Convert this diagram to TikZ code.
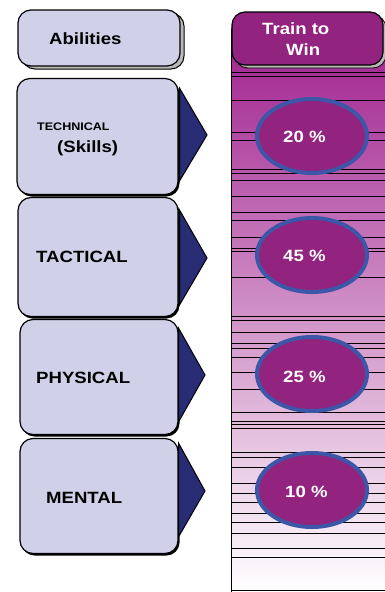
\documentclass[tikz,border=0pt]{standalone}
\usepackage{fontspec}
\usepackage{graphicx}
\setmainfont{Liberation Sans}
\usetikzlibrary{shadows}
\definecolor{lav}{HTML}{D0D0E8}
\definecolor{navyc}{HTML}{282C74}
\definecolor{magc}{HTML}{92237F}
\definecolor{coltop}{HTML}{A0208E}
\definecolor{colmid}{HTML}{C97AB3}
\definecolor{ringc}{HTML}{3C56A8}
\newcommand\hs[1]{\scalebox{1.14}[1]{#1}}
\tikzset{
  lbox/.style={draw=black, line width=1.2pt, fill=lav, rounded corners=13pt,
    inner sep=0pt, outer sep=0pt,
    general shadow={fill=black, shadow xshift=1.5pt, shadow yshift=-2pt}},
  abox/.style={draw=black, line width=1.2pt, fill=lav, rounded corners=13pt,
    inner sep=0pt, outer sep=0pt,
    general shadow={draw=black, line width=1pt, fill=gray!55, shadow xshift=4pt, shadow yshift=-3pt}},
  hbox/.style={draw=black, line width=1.2pt, fill=magc, rounded corners=13pt,
    inner sep=0pt, outer sep=0pt,
    general shadow={draw=black, line width=0.8pt, fill=gray!55, shadow xshift=3pt, shadow yshift=-3pt}},
  tri/.style={draw=black, line width=1pt, fill=navyc},
  pct/.style={ellipse, draw=ringc, line width=4pt, fill=magc, minimum width=110pt, minimum height=74pt, inner sep=0pt},
  btxt/.style={anchor=base west, inner sep=0pt, font=\fontsize{16.3}{19}\selectfont\bfseries},
  stxt/.style={anchor=base west, inner sep=0pt, font=\fontsize{11}{13}\selectfont\bfseries},
  wtxt/.style={anchor=base west, inner sep=0pt, text=white, font=\fontsize{16.3}{19}\selectfont\bfseries},
  hline/.style={draw=black, line width=0.9pt}
}
\usetikzlibrary{shapes.geometric}
\begin{document}
\begin{tikzpicture}[x=1pt, y=-1pt]
\useasboundingbox (0,0) rectangle (384,592);
% column
\shade[top color=coltop, middle color=colmid, bottom color=white] (231,28) rectangle (386,592);
\foreach \yy in {72,76,100,132,140,169,173,180,196,212,220,237,248,251,277,316,320,332,343,348,357,372,389,412,421,424,428,452,457,467,483,493,502,513,522,533,548,557,590}
  \draw[hline] (231,\yy) -- (386,\yy);
\draw[line width=1pt] (231,30) -- (231,592);
% header
\node[hbox, minimum width=151pt, minimum height=53pt] (hdr) at (307.5,38.5) {};
\node[wtxt] (htxt1) at (262,34) {\hs{Train to}};
\node[wtxt] (htxt2) at (286,55) {\hs{Win}};
% left boxes
\node[abox, minimum width=162pt, minimum height=56pt] (abil) at (99,38) {};
\node[btxt] (abiltxt) at (49,44) {\hs{Abilities}};

\node[lbox, minimum width=161pt, minimum height=116pt] (tech) at (97.5,136.5) {};
\draw[tri] (179.5,88) -- (207,135) -- (179.5,181) -- cycle;
\node[stxt] (techtxt) at (37,130) {\hs{TECHNICAL}};
\node[btxt] (skilltxt) at (57,152) {\hs{(Skills)}};

\node[lbox, minimum width=160pt, minimum height=119pt] (tact) at (98,257) {};
\draw[tri] (179.5,210) -- (207,258) -- (179.5,305) -- cycle;
\node[btxt] (tacttxt) at (36,262) {\hs{TACTICAL}};

\node[lbox, minimum width=158pt, minimum height=115pt] (phys) at (99,377) {};
\draw[tri] (178.5,328) -- (205,375) -- (178.5,422) -- cycle;
\node[btxt] (phystxt) at (36,383) {\hs{PHYSICAL}};

\node[lbox, minimum width=158pt, minimum height=115pt] (ment) at (99,496) {};
\draw[tri] (178.5,443) -- (205,491) -- (178.5,537) -- cycle;
\node[btxt] (menttxt) at (46,503) {\hs{MENTAL}};

% percentages
\node[pct] (p1) at (312,136) {};
\node[wtxt] (p1t) at (283,142) {\hs{20 \%}};
\node[pct] (p2) at (312,255) {};
\node[wtxt] (p2t) at (283,261) {\hs{45 \%}};
\node[pct] (p3) at (312,374) {};
\node[wtxt] (p3t) at (283,382) {\hs{25 \%}};
\node[pct] (p4) at (312,490) {};
\node[wtxt] (p4t) at (285,497) {\hs{10 \%}};
\end{tikzpicture}
\end{document}
